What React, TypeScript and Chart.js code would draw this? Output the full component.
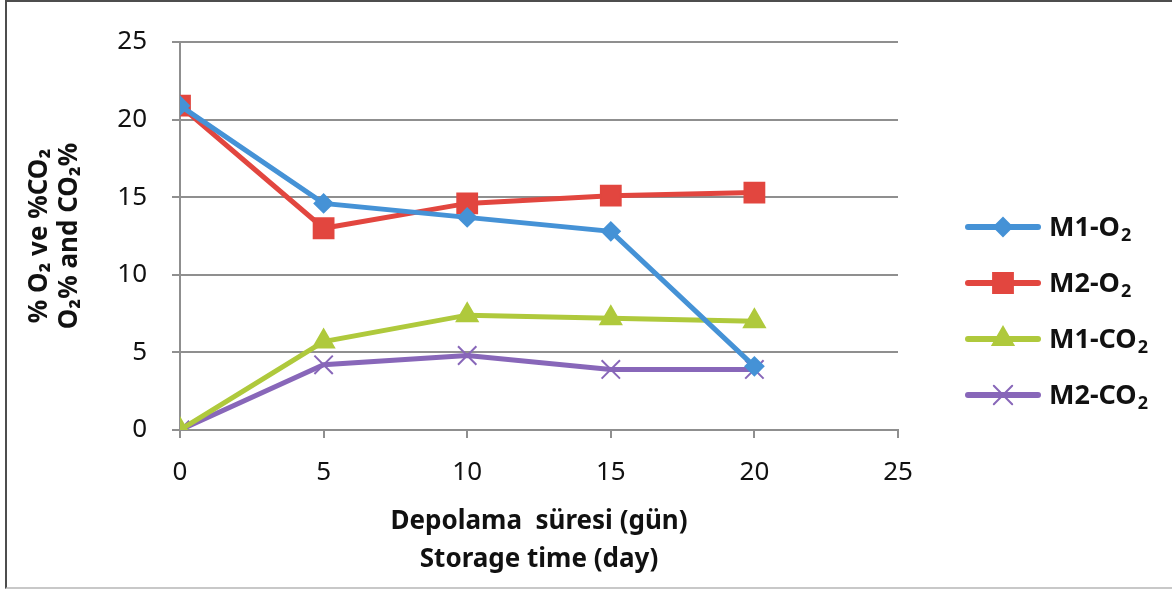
import React, { useEffect, useRef } from 'react';
import { Chart, registerables } from 'chart.js';
import { drawPoint } from 'chart.js/helpers';

Chart.register(...registerables);

// ---- Data ----
const days = [0, 5, 10, 15, 20];
const m1O2 = [20.9, 14.6, 13.7, 12.8, 4.1];
const m2O2 = [20.9, 13.0, 14.6, 15.1, 15.3];
const m1CO2 = [0, 5.7, 7.4, 7.2, 7.0];
const m2CO2 = [0, 4.2, 4.8, 3.9, 3.9];

const seriesLabels = ['M1-O₂', 'M2-O₂', 'M1-CO₂', 'M2-CO₂'];
const xTitle = ['Depolama  süresi (gün)', 'Storage time (day)'];
const yTitle = ['% O₂ ve %CO₂', 'O₂% and CO₂%'];

const FONT = '"Noto Sans", "Open Sans", sans-serif';
const GRID = '#8f8f8f';
const TEXT = '#111111';

const colors = ['#4592d6', '#e2463f', '#afc93c', '#8867b9'];
const styles = ['rectRot', 'rect', 'triangle', 'crossRot'];
const radii = [9, 14, 12, 13];
const borderWidths = [2, 2, 2, 2];

const seriesValues = [m1O2, m2O2, m1CO2, m2CO2];

// draw text where '₂' is rendered as a lowered, smaller "2"
function drawSubText(ctx: CanvasRenderingContext2D, text: string, x: number, y: number, size: number) {
  const parts = text.split('₂');
  let cx = x;
  parts.forEach((p, idx) => {
    ctx.font = `bold ${size}px ${FONT}`;
    ctx.fillText(p, cx, y);
    cx += ctx.measureText(p).width;
    if (idx < parts.length - 1) {
      const sub = Math.round(size * 0.68);
      ctx.font = `bold ${sub}px ${FONT}`;
      ctx.fillText('2', cx + 1, y + size * 0.3);
      cx += ctx.measureText('2').width + 1;
    }
  });
}

const legendPlugin = {
  id: 'lineLegend',
  afterDraw(chart: any) {
    const ctx = chart.ctx as CanvasRenderingContext2D;
    const x0 = chart.chartArea.right + 70;
    const top = 227;
    const gap = 56;
    chart.data.datasets.forEach((ds: any, i: number) => {
      const y = top + i * gap;
      ctx.save();
      ctx.strokeStyle = ds.borderColor;
      ctx.lineWidth = 6;
      ctx.lineCap = 'round';
      ctx.beginPath();
      ctx.moveTo(x0, y);
      ctx.lineTo(x0 + 70, y);
      ctx.stroke();
      ctx.fillStyle = ds.pointBackgroundColor;
      ctx.strokeStyle = ds.pointBorderColor;
      ctx.lineWidth = ds.pointBorderWidth;
      drawPoint(ctx, { pointStyle: ds.pointStyle, radius: ds.pointRadius, borderWidth: ds.pointBorderWidth, rotation: 0 } as any, x0 + 35, y);
      ctx.fillStyle = TEXT;
      ctx.textBaseline = 'middle';
      ctx.textAlign = 'left';
      drawSubText(ctx, ds.label, x0 + 81, y + 1, 27);
      ctx.restore();
    });
  },
};

export default function App() {
  const ref = useRef<HTMLCanvasElement>(null);
  useEffect(() => {
    if (!ref.current) return;
    const datasets = seriesValues.map((vals, i) => ({
      label: seriesLabels[i],
      data: days.map((d, j) => ({ x: d, y: vals[j] })),
      borderColor: colors[i],
      backgroundColor: colors[i],
      borderWidth: 5,
      pointStyle: styles[i],
      pointRadius: radii[i],
      pointHoverRadius: radii[i],
      pointBackgroundColor: colors[i],
      pointBorderColor: colors[i],
      pointBorderWidth: borderWidths[i],
      tension: 0,
    }));
    const chart = new Chart(ref.current, {
      type: 'line',
      data: { datasets },
      plugins: [legendPlugin],
      options: {
        responsive: false,
        devicePixelRatio: 1,
        animation: false,
        layout: { padding: { top: 42, right: 274, bottom: 0, left: 0 } },
        plugins: { legend: { display: false }, tooltip: { enabled: false } },
        scales: {
          x: {
            type: 'linear',
            min: 0,
            max: 25,
            afterFit: (s: any) => { s.height = 159; },
            ticks: { stepSize: 5, padding: 19, color: TEXT, font: { family: FONT, size: 26 } },
            grid: { drawOnChartArea: false, drawTicks: true, tickLength: 8, color: GRID, lineWidth: 2 },
            border: { display: true, color: GRID, width: 2 },
            title: {
              display: true,
              text: xTitle,
              color: TEXT,
              font: { family: FONT, size: 26, weight: 'bold', lineHeight: 38 / 26 },
              padding: { top: 0, bottom: 10 },
            },
          },
          y: {
            type: 'linear',
            min: 0,
            max: 25,
            afterFit: (s: any) => { s.width = 180; },
            ticks: { stepSize: 5, padding: 25, color: TEXT, font: { family: FONT, size: 26 } },
            grid: { drawTicks: true, tickLength: 8, color: GRID, lineWidth: 2 },
            border: { display: true, color: GRID, width: 2 },
            title: {
              display: true,
              text: yTitle,
              color: TEXT,
              font: { family: FONT, size: 26, weight: 'bold', lineHeight: 30 / 26 },
              padding: { top: 25, bottom: 0 },
            },
          },
        },
      } as any,
    });
    return () => chart.destroy();
  }, []);
  return (
    <div style={{ position: 'fixed', left: 0, top: 0, width: 1172, height: 589, background: '#fff', overflow: 'hidden' }}>
      <canvas ref={ref} width={1172} height={589} style={{ position: 'absolute', left: 0, top: 0, width: 1172, height: 589 }} />
      <div
        style={{
          position: 'absolute',
          left: 5,
          top: 0,
          width: 1167,
          height: 589,
          boxSizing: 'border-box',
          borderLeft: '2px solid #4d4d4d',
          borderTop: '2px solid #4d4d4d',
          borderBottom: '2px solid #c8c8c8',
          pointerEvents: 'none',
        }}
      />
    </div>
  );
}
